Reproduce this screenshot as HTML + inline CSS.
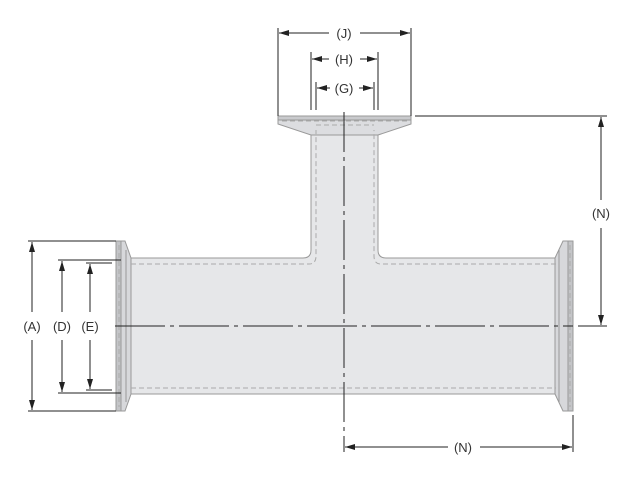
<!DOCTYPE html>
<html><head><style>body{margin:0;background:#fff}svg{display:block}text{font-family:"Liberation Sans",sans-serif;font-size:13px;fill:#333}</style></head><body>
<svg width="636" height="487" viewBox="0 0 636 487">
<defs><marker id="a" viewBox="0 0 10 6" refX="10" refY="3" markerWidth="10" markerHeight="6" orient="auto-start-reverse"><path d="M0,0L10,3L0,6z" fill="#222"/></marker></defs>
<g stroke="#999" stroke-width="1">
<!-- main body -->
<path d="M131,258 H303 Q311,258 311,250 V135 H378 V250 Q378,258 386,258 H555 V394 H131 Z" fill="#e6e7e9"/>
<!-- top flange -->
<path d="M278,116 H411 V124 L378,135 H311 L278,124 Z" fill="#dcdde0"/>
<rect x="278" y="116" width="133" height="4" fill="#c9cacd"/>
<!-- left flange -->
<path d="M116,241 L125,241 L131,258 V394 L125,411 L116,411 Z" fill="#d7d8db"/>
<rect x="116" y="241" width="5" height="170" fill="#c4c5c8"/>
<line x1="126" y1="250" x2="126" y2="402"/>
<!-- right flange -->
<path d="M555,258 L563,241 L573,241 L573,411 L563,411 L555,394 Z" fill="#d7d8db"/>
<rect x="568" y="241" width="5" height="170" fill="#c4c5c8"/>
<line x1="559" y1="250" x2="559" y2="402"/>
</g>
<g stroke="#aaa" stroke-dasharray="5,3" fill="none">
<path d="M131,264 H309 Q316,264 316,256 V130"/>
<path d="M556,264 H381 Q374,264 374,256 V130"/>
<path d="M131,388 H556"/>
<line x1="282" y1="121" x2="407" y2="121"/>
<line x1="316" y1="125" x2="374" y2="125"/>
<line x1="119" y1="245" x2="119" y2="407"/>
<line x1="570" y1="245" x2="570" y2="407"/>
</g>
<g stroke="#222" stroke-width="1" fill="none">
<!-- centerlines -->
<line x1="344" y1="112" x2="344" y2="452" stroke-dasharray="40,5,4,5"/>
<line x1="115" y1="326" x2="573" y2="326" stroke-dasharray="50,5,4,5"/>
<!-- J H G -->
<line x1="278" y1="28" x2="278" y2="116"/><line x1="411" y1="28" x2="411" y2="116"/>
<line x1="311" y1="52" x2="311" y2="110"/><line x1="378" y1="52" x2="378" y2="110"/>
<line x1="316" y1="82" x2="316" y2="110"/><line x1="374" y1="82" x2="374" y2="110"/>
<line x1="279" y1="33" x2="329" y2="33" marker-start="url(#a)"/><line x1="360" y1="33" x2="410" y2="33" marker-end="url(#a)"/>
<line x1="312" y1="59" x2="329" y2="59" marker-start="url(#a)"/><line x1="360" y1="59" x2="377" y2="59" marker-end="url(#a)"/>
<line x1="317" y1="88" x2="330" y2="88" marker-start="url(#a)"/><line x1="359" y1="88" x2="373" y2="88" marker-end="url(#a)"/>
<!-- A D E -->
<line x1="28" y1="241" x2="116" y2="241"/><line x1="28" y1="411" x2="116" y2="411"/>
<line x1="58" y1="260" x2="121" y2="260"/><line x1="58" y1="393" x2="121" y2="393"/>
<line x1="86" y1="263" x2="112" y2="263"/><line x1="86" y1="390" x2="112" y2="390"/>
<line x1="32" y1="242" x2="32" y2="312" marker-start="url(#a)"/><line x1="32" y1="340" x2="32" y2="410" marker-end="url(#a)"/>
<line x1="62" y1="261" x2="62" y2="312" marker-start="url(#a)"/><line x1="62" y1="340" x2="62" y2="392" marker-end="url(#a)"/>
<line x1="90" y1="264" x2="90" y2="312" marker-start="url(#a)"/><line x1="90" y1="340" x2="90" y2="389" marker-end="url(#a)"/>
<!-- N right -->
<line x1="415" y1="116" x2="607" y2="116"/><line x1="578" y1="326" x2="607" y2="326"/>
<line x1="601" y1="117" x2="601" y2="200" marker-start="url(#a)"/><line x1="601" y1="228" x2="601" y2="325" marker-end="url(#a)"/>
<!-- N bottom -->
<line x1="573" y1="415" x2="573" y2="452"/>
<line x1="345" y1="447" x2="448" y2="447" marker-start="url(#a)"/><line x1="480" y1="447" x2="572" y2="447" marker-end="url(#a)"/>
</g>
<g text-anchor="middle">
<text x="344" y="38">(J)</text><text x="344" y="64">(H)</text><text x="344" y="93">(G)</text>
<text x="32" y="331">(A)</text><text x="62" y="331">(D)</text><text x="90" y="331">(E)</text>
<text x="601" y="218">(N)</text><text x="463" y="452">(N)</text>
</g>
</svg>
</body></html>
